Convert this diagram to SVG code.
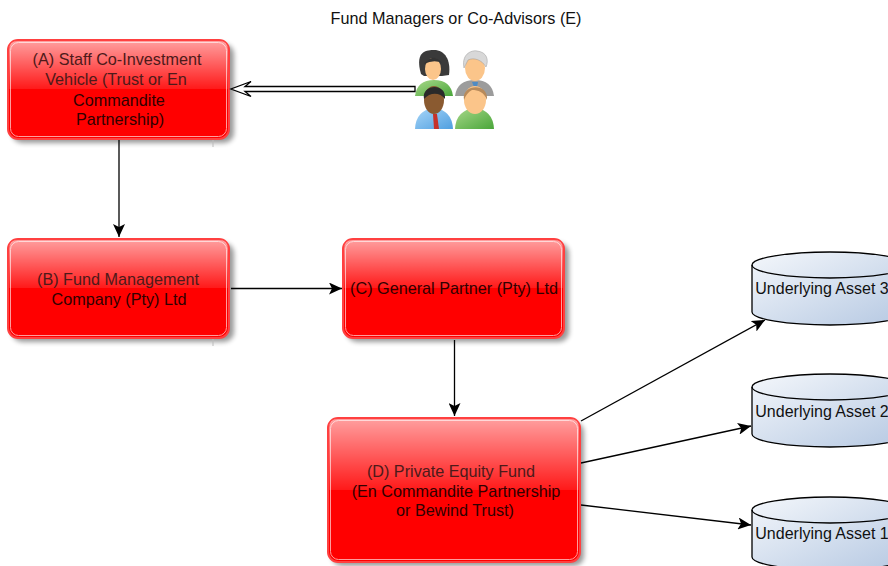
<svg xmlns="http://www.w3.org/2000/svg" width="888" height="566" viewBox="0 0 888 566">
<style>
text{font-family:"Liberation Sans",Arial,sans-serif;font-size:16.2px;text-anchor:middle;fill:#111}
.asset{font-size:16px}
.up{fill:#4d1a1a}
.lo{fill:#300000}
.box{fill:#f00;stroke:#ff4040;stroke-width:2}
.halo{fill:none;stroke:#ff9c9c;stroke-width:1}
.gl{fill:url(#gloss)}
.cyl{fill:url(#cy);stroke:#000;stroke-width:1.3}
.ln{fill:none;stroke:#000;stroke-width:1.3}
.sh{fill:#000;opacity:.4;filter:url(#bl)}
.tick{stroke:#bbb;stroke-width:1}
</style>
<defs>
<linearGradient id="gloss" x1="0" y1="0" x2="0" y2="1"><stop offset="0" stop-color="#fff" stop-opacity=".62"/><stop offset="1" stop-color="#fff" stop-opacity=".1"/></linearGradient>
<linearGradient id="cy" x1="0" y1="0" x2="1" y2="1"><stop offset="0" stop-color="#f4f7fb"/><stop offset="1" stop-color="#b5c8e2"/></linearGradient>
<linearGradient id="gr" x1="0" y1="0" x2="1" y2="1"><stop offset="0" stop-color="#a8d88a"/><stop offset="1" stop-color="#4aa63a"/></linearGradient>
<linearGradient id="bu" x1="0" y1="0" x2="1" y2="1"><stop offset="0" stop-color="#a8d6f8"/><stop offset="1" stop-color="#4f9fe0"/></linearGradient>
<filter id="bl" x="-10%" y="-10%" width="120%" height="120%"><feGaussianBlur stdDeviation="2.5"/></filter>
<marker id="ah" markerWidth="14" markerHeight="12" refX="13" refY="6" orient="auto" markerUnits="userSpaceOnUse"><path d="M0 0L13 6L0 12L3 6Z" fill="#000"/></marker>
</defs>
<g id="connectors">
<path class="ln" marker-end="url(#ah)" d="M119 140V237"/>
<path class="ln" marker-end="url(#ah)" d="M231 288.500H342"/>
<path class="ln" marker-end="url(#ah)" d="M454.500 340V416"/>
<path class="ln" marker-end="url(#ah)" d="M581 421L765 320"/>
<path class="ln" marker-end="url(#ah)" d="M581 463L751 426"/>
<path class="ln" marker-end="url(#ah)" d="M581 505L751 525"/>
</g>
<g id="node-a">
<rect class="sh" x="12" y="44" width="222" height="99" rx="10"/>
<path class="tick" d="M213 139V147"/>
<rect class="box" x="8" y="40" width="221" height="99" rx="10"/>
<rect class="halo" x="10.500" y="42.500" width="216" height="94" rx="8"/>
<path class="gl" d="M18 41H219Q228 41 228 50V89H9V50Q9 41 18 41Z"/>
<text class="up" x="117" y="65">(A) Staff Co-Investment</text><text class="up" x="116" y="85">Vehicle (Trust or En</text><text class="lo" x="119" y="106">Commandite</text><text class="lo" x="120" y="125">Partnership)</text>
</g>
<g id="node-b">
<rect class="sh" x="12" y="243" width="222" height="99" rx="10"/>
<path class="tick" d="M213 338V346"/>
<rect class="box" x="8" y="239" width="221" height="99" rx="10"/>
<rect class="halo" x="10.500" y="241.500" width="216" height="94" rx="8"/>
<path class="gl" d="M18 240H219Q228 240 228 249V288H9V249Q9 240 18 240Z"/>
<text class="up" x="118" y="285">(B) Fund Management</text><text class="lo" x="119" y="305">Company (Pty) Ltd</text>
</g>
<g id="node-c">
<rect class="sh" x="347" y="243" width="222" height="99" rx="10"/>
<rect class="box" x="343" y="239" width="221" height="99" rx="10"/>
<rect class="halo" x="345.500" y="241.500" width="216" height="94" rx="8"/>
<path class="gl" d="M353 240H554Q563 240 563 249V288H344V249Q344 240 353 240Z"/>
<text class="lo" x="454" y="294">(C) General Partner (Pty) Ltd</text>
</g>
<g id="node-d">
<rect class="sh" x="332" y="422" width="252" height="144" rx="10"/>
<rect class="box" x="328" y="418" width="252" height="144" rx="10"/>
<rect class="halo" x="330.500" y="420.500" width="247" height="139" rx="8"/>
<path class="gl" d="M338 419H570Q579 419 579 428V490H329V428Q329 419 338 419Z"/>
<text class="up" x="451" y="477">(D) Private Equity Fund</text><text class="lo" x="456" y="497">(En Commandite Partnership</text><text class="lo" x="455" y="516">or Bewind Trust)</text>
</g>
<g id="node-e">
<text x="456" y="24">Fund Managers or Co-Advisors (E)</text>
<g id="p1">
<path d="M415 96Q417 80 434 80Q451 80 453 96Z" fill="url(#gr)"/>
<path d="M421 74C414 50 428 50 434 50C445 50 451 60 449 75L442 76H424Z" fill="#3a3a3a"/>
<ellipse cx="433" cy="69" rx="8" ry="11" fill="#fbc58a"/>
<path d="M424 64Q433 52 442 63Q434 59 424 64Z" fill="#333"/>
</g>
<g id="p2">
<path d="M455 96Q457 80 475 80Q492 80 494 96Z" fill="#9c9c9c"/>
<path d="M472 82H478L476 92Z" fill="#4f8bc4"/>
<ellipse cx="475" cy="68" rx="10" ry="13" fill="#fbc58a"/>
<path d="M464 68C461 52 474 50 477 51C487 52 489 60 486 67C482 60 474 57 468 60Z" fill="#d8d8d8" stroke="#999" stroke-width=".5"/>
</g>
<g id="p3">
<path d="M415 129Q416 110 434 108Q452 110 453 129Z" fill="url(#bu)"/>
<path d="M433 114H437L439 129H434Z" fill="#c6322b"/>
<ellipse cx="434" cy="100" rx="10" ry="14" fill="#8a5a30"/>
<path d="M424 99C421 84 447 82 445 99C440 92 430 92 424 99Z" fill="#2a2a2a"/>
</g>
<g id="p4">
<path d="M455 129Q456 110 475 108Q493 110 494 129Z" fill="url(#gr)"/>
<ellipse cx="475" cy="100" rx="11" ry="14" fill="#fbc58a"/>
<path d="M464 100C461 84 489 82 487 100C484 92 478 90 472 90C468 92 466 95 464 100Z" fill="#b88a5a"/>
</g>
</g>
<path id="connector-e-a" d="M415 86.500H245L251 81.500L231 89L251 96.500L245 91.500H415Z" fill="#fff" stroke="#000" stroke-width="1.300"/>
<g id="asset-3">
<path class="cyl" d="M752 265V312A78 13 0 0 0 908 312V265A78 13 0 0 0 752 265Z"/>
<path class="cyl" d="M752 265A78 13 0 0 0 908 265" style="fill:none"/>
<text class="asset" x="822" y="294">Underlying Asset 3</text>
</g>
<g id="asset-2">
<path class="cyl" d="M752 387V434A78 13 0 0 0 908 434V387A78 13 0 0 0 752 387Z"/>
<path class="cyl" d="M752 387A78 13 0 0 0 908 387" style="fill:none"/>
<text class="asset" x="822" y="417">Underlying Asset 2</text>
</g>
<g id="asset-1">
<path class="cyl" d="M752 510V557A78 13 0 0 0 908 557V510A78 13 0 0 0 752 510Z"/>
<path class="cyl" d="M752 510A78 13 0 0 0 908 510" style="fill:none"/>
<text class="asset" x="822" y="539">Underlying Asset 1</text>
</g>
</svg>
